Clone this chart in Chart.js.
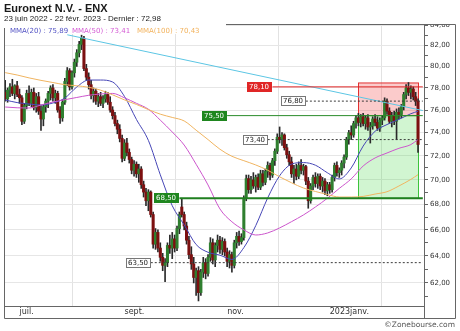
<!DOCTYPE html>
<html>
<head>
<meta charset="utf-8">
<script src="https://cdn.jsdelivr.net/npm/chart.js@4.4.1/dist/chart.umd.min.js"></script>
<style>
  html, body { margin: 0; padding: 0; background: #fff; }
  #box { width: 460px; height: 331px; position: relative; }
</style>
</head>
<body>
<div id="box"><canvas id="chart"></canvas></div>
<script>
// trading days from 23 juin 2022 to 22 févr. 2023 (Euronext shut on 26 déc.)
const firstDay = '2022-06-23';
const lastDay = '2023-02-22';
const closedDays = ['2022-12-26'];

const monthTickDays = ['2022-07-01', '2022-09-01', '2022-11-01', '2023-01-02'];
const monthTickNames = ['juil.', 'sept.', 'nov.', '2023janv.'];
const yTickValues = [61, 62, 63, 64, 65, 66, 67, 68, 69, 70, 71, 72, 73, 74, 75, 76, 77, 78, 79, 80, 81, 82, 83, 84];

const opens = [
  77.6, 77.0, 77.8, 78.1, 77.5, 78.2, 77.4, 77.1, 75.0, 76.4,
  77.5, 76.6, 77.6, 76.2, 77.2, 75.9, 75.2, 76.3, 76.8, 77.5,
  78.0, 77.1, 77.5, 76.0, 75.3, 76.7, 78.6, 79.6, 78.1, 79.4,
  80.4, 81.3, 82.1, 82.7, 79.8, 79.0, 78.3, 77.3, 77.7, 76.8,
  77.2, 76.6, 77.0, 77.4, 76.7, 76.0, 75.5, 74.8, 74.3, 73.5,
  71.8, 73.1, 72.3, 71.7, 70.8, 71.3, 70.5, 70.9, 69.6, 69.0,
  68.3, 69.0, 67.2, 64.9, 65.8, 64.6, 63.9, 63.3, 63.5, 64.8,
  64.6, 65.3, 64.6, 66.1, 67.8, 67.2, 66.3, 65.2, 64.1, 63.4,
  62.4, 62.9, 61.3, 62.8, 63.5, 62.7, 63.9, 65.0, 63.7, 64.8,
  65.2, 64.5, 65.1, 64.3, 63.6, 64.1, 63.3, 65.0, 65.5, 65.1,
  65.4, 68.5, 70.1, 69.2, 70.0, 69.5, 70.2, 69.4, 70.5, 69.8,
  70.7, 71.2, 70.4, 71.6, 72.4, 73.6, 73.4, 73.8, 72.7, 72.1,
  71.5, 70.5, 70.9, 70.3, 71.2, 70.8, 71.1, 69.9, 68.3, 69.5,
  70.2, 69.7, 70.3, 69.5, 69.9, 69.1, 69.6, 69.2, 70.2, 71.2,
  70.6, 70.8, 71.4, 71.9, 73.4, 74.0, 73.8, 74.8, 75.3, 74.9,
  75.4, 74.8, 75.3, 74.5, 74.6, 75.2, 74.9, 74.4, 75.1, 75.3,
  76.8, 75.9, 75.0, 75.5, 75.0, 75.8, 75.6, 76.3, 77.4, 78.0,
  77.6, 77.9, 77.2, 76.8
];
const highs = [
  78.7, 78.0, 78.4, 78.8, 78.3, 78.6, 77.9, 77.3, 76.6, 77.8,
  78.2, 77.9, 78.0, 77.5, 77.6, 76.4, 76.5, 77.0, 77.7, 78.2,
  78.3, 77.8, 77.7, 76.3, 76.9, 78.9, 79.9, 79.8, 79.6, 80.7,
  81.6, 82.4, 83.0, 82.9, 80.2, 79.4, 78.7, 78.0, 77.9, 77.5,
  77.6, 77.3, 77.7, 77.6, 77.2, 76.3, 75.8, 75.1, 74.7, 73.8,
  73.4, 73.5, 72.6, 71.9, 71.6, 71.5, 71.3, 71.1, 69.9, 69.3,
  69.2, 69.1, 67.4, 66.1, 66.0, 65.0, 64.2, 63.8, 65.0, 65.6,
  65.8, 65.6, 66.3, 67.4, 68.5, 67.4, 66.6, 65.5, 64.7, 63.9,
  63.1, 63.2, 63.0, 63.9, 63.8, 64.1, 65.4, 65.3, 65.0, 65.6,
  65.5, 65.4, 65.3, 64.6, 64.4, 64.3, 65.2, 65.8, 65.9, 65.7,
  68.7, 70.4, 70.4, 70.3, 70.6, 70.4, 70.5, 70.8, 70.8, 70.9,
  71.5, 71.4, 71.8, 72.6, 73.9, 74.5, 74.0, 73.9, 73.0, 72.4,
  71.9, 71.2, 71.3, 71.5, 71.7, 71.3, 71.2, 70.2, 69.7, 70.4,
  70.6, 70.5, 70.5, 70.2, 70.1, 69.8, 69.8, 70.4, 71.4, 71.5,
  71.0, 71.6, 72.1, 73.6, 74.2, 74.6, 75.0, 75.5, 75.7, 75.6,
  75.7, 75.5, 75.6, 74.9, 75.4, 75.6, 75.4, 75.3, 75.5, 77.1,
  77.0, 76.2, 75.8, 75.9, 76.1, 76.2, 76.5, 77.6, 78.3, 78.5,
  78.2, 78.1, 77.6, 77.0
];
const lows = [
  76.8, 76.7, 77.2, 77.3, 77.0, 77.2, 76.6, 74.7, 74.8, 76.1,
  76.4, 76.3, 76.0, 75.8, 75.6, 74.2, 74.6, 75.8, 76.2, 76.9,
  76.8, 76.6, 75.8, 74.8, 75.0, 76.5, 78.2, 77.8, 77.9, 79.0,
  80.0, 80.9, 81.6, 79.6, 78.7, 77.9, 77.0, 76.7, 76.5, 76.3,
  76.4, 76.2, 76.7, 76.5, 75.8, 75.2, 74.6, 73.9, 73.2, 71.5,
  71.6, 72.0, 71.4, 70.5, 70.3, 70.2, 69.8, 69.3, 68.6, 67.9,
  67.5, 67.0, 64.6, 64.5, 64.3, 63.6, 62.9, 62.1, 63.2, 64.2,
  63.8, 64.3, 64.4, 65.7, 67.0, 66.0, 64.9, 63.8, 63.0, 62.0,
  61.1, 60.7, 61.1, 62.4, 62.3, 62.5, 63.6, 63.4, 63.2, 64.3,
  64.2, 64.1, 64.0, 63.2, 63.1, 62.8, 63.1, 64.6, 64.8, 64.9,
  65.2, 68.3, 68.9, 68.9, 69.3, 69.0, 69.2, 69.2, 69.5, 69.6,
  70.2, 70.0, 70.2, 71.2, 72.2, 73.1, 72.9, 72.5, 71.8, 71.2,
  70.2, 69.7, 70.0, 70.1, 70.5, 70.4, 69.6, 67.7, 68.1, 69.2,
  69.4, 69.3, 69.2, 69.0, 68.8, 68.7, 68.9, 69.0, 69.9, 70.3,
  70.2, 70.4, 71.0, 71.7, 73.0, 73.4, 73.6, 74.4, 74.6, 74.5,
  74.6, 74.3, 74.2, 73.1, 74.3, 74.6, 74.2, 74.1, 74.7, 75.1,
  75.6, 74.8, 74.5, 74.7, 73.4, 75.2, 75.3, 76.0, 77.0, 77.3,
  77.0, 76.9, 76.4, 72.3
];
const closes = [
  77.0, 77.8, 78.1, 77.5, 78.2, 77.4, 77.1, 75.0, 76.4, 77.5,
  76.6, 77.6, 76.2, 77.2, 75.9, 75.2, 76.3, 76.8, 77.5, 78.0,
  77.1, 77.5, 76.0, 75.3, 76.7, 78.6, 79.6, 78.1, 79.4, 80.4,
  81.3, 82.1, 82.7, 79.8, 79.0, 78.3, 77.3, 77.7, 76.8, 77.2,
  76.6, 77.0, 77.4, 76.7, 76.0, 75.5, 74.8, 74.3, 73.5, 71.8,
  73.1, 72.3, 71.7, 70.8, 71.3, 70.5, 70.9, 69.6, 69.0, 68.3,
  69.0, 67.2, 64.9, 65.8, 64.6, 63.9, 63.3, 63.5, 64.8, 64.6,
  65.3, 64.6, 66.1, 67.2, 67.2, 66.3, 65.2, 64.1, 63.4, 62.4,
  62.9, 61.3, 62.8, 63.5, 62.7, 63.9, 65.0, 63.7, 64.8, 65.2,
  64.5, 65.1, 64.3, 63.6, 64.1, 63.3, 65.0, 65.5, 65.1, 65.4,
  68.5, 70.1, 69.2, 70.0, 69.5, 70.2, 69.4, 70.5, 69.8, 70.7,
  71.2, 70.4, 71.6, 72.4, 73.6, 73.4, 73.8, 72.7, 72.1, 71.5,
  70.5, 70.9, 70.3, 71.2, 70.8, 71.1, 69.9, 68.3, 69.5, 70.2,
  69.7, 70.3, 69.5, 69.9, 69.1, 69.6, 69.2, 70.2, 71.2, 70.6,
  70.8, 71.4, 71.9, 73.4, 74.0, 73.8, 74.8, 75.3, 74.9, 75.4,
  74.8, 75.3, 74.5, 74.6, 75.2, 74.9, 74.4, 75.1, 75.3, 76.8,
  75.9, 75.0, 75.5, 75.0, 75.8, 75.6, 76.3, 77.4, 78.0, 77.6,
  77.9, 77.2, 76.8, 72.98
];

// moving averages at every 5th session
const maIdx = [0, 5, 10, 15, 20, 25, 30, 35, 40, 45, 50, 55, 60, 65, 70, 75, 80, 85,
  90, 95, 100, 105, 110, 115, 120, 125, 130, 135, 140, 145, 150, 155, 160, 165, 170, 173];
const ma20 = [76.90, 76.67, 76.54, 76.45, 76.63, 77.08, 78.09, 78.73, 78.73, 78.55, 77.22, 75.16,
  73.33, 70.42, 67.90, 66.39, 64.87, 64.28, 64.06, 63.74, 64.63, 66.33, 68.53, 70.34,
  71.31, 71.44, 71.22, 70.59, 70.08, 70.99, 72.84, 74.12, 74.71, 75.17, 75.67, 75.89];
const ma50 = [76.27, 76.20, 76.18, 76.45, 76.72, 76.93, 77.13, 77.33, 77.45, 77.50, 77.10, 76.60,
  76.07, 75.10, 74.06, 72.93, 71.30, 69.58, 67.64, 66.63, 66.00, 65.60, 65.76, 66.15,
  66.64, 67.17, 67.80, 68.50, 69.30, 70.08, 71.15, 71.83, 72.25, 72.65, 72.97, 73.41];
const ma100 = [79.42, 79.20, 78.93, 78.70, 78.50, 78.30, 78.20, 78.06, 77.80, 77.37, 76.91, 76.50,
  76.04, 75.63, 75.34, 75.03, 74.22, 73.40, 72.57, 71.97, 71.60, 71.24, 70.80, 70.25,
  69.76, 69.33, 69.05, 68.80, 68.60, 68.60, 68.65, 68.84, 69.03, 69.50, 70.04, 70.43];

// falling trend line (session index -> price)
const trendIdx = [26, 175];
const trendVals = [83.04, 75.95];

// horizontal levels
const levelValues = [78.10, 76.80, 75.50, 73.40, 68.50, 63.50];
const levelStarts = [112, 126, 93, 110, 73, 61];
const levelKinds = ['resist', 'mark', 'support', 'mark', 'supportMain', 'mark'];

// target zones at the right
const zoneFrom = 148, zoneTo = 173;
const zoneTop = 78.46, zoneMid = 75.50, zoneBottom = 68.50;

const legendNames = ['MMA(20)', 'MMA(50)', 'MMA(100)'];

function tradingDays(from, to) {
  const out = [];
  const d = new Date(from + 'T12:00:00Z');
  const end = new Date(to + 'T12:00:00Z');
  while (d <= end) {
    const s = d.toISOString().slice(0, 10);
    const wd = d.getUTCDay();
    if (wd !== 0 && wd !== 6 && !closedDays.includes(s)) out.push(s);
    d.setUTCDate(d.getUTCDate() + 1);
  }
  return out;
}

const days = tradingDays(firstDay, lastDay);
const labels = days.concat(['pad1', 'pad2']);

const upColor = '#2f7f2f';
const downColor = '#7c1010';
const maColors = ['#4646b6', '#cc55cc', '#f0b460'];
const legendColors = ['#5252c4', '#d45ad4', '#f2b25c'];

const levelStyle = {
  resist: { line: '#e02626', width: 1, dash: [], box: '#e02626', border: '#e02626', text: '#fff' },
  support: { line: '#2a8c2a', width: 1, dash: [], box: '#1f861f', border: '#1f861f', text: '#fff' },
  supportMain: { line: '#1f7f1f', width: 2, dash: [], box: '#1f861f', border: '#1f861f', text: '#fff' },
  mark: { line: '#3a3a3a', width: 1, dash: [2, 2], box: '#fff', border: '#777', text: '#222' }
};

function fr(v) {
  return v.toFixed(2).replace('.', ',');
}

function maPoints(vals) {
  return maIdx.map((k, j) => ({ x: labels[k], y: vals[j] }));
}

const datasets = [];

datasets.push({
  type: 'bar',
  data: lows.map((l, i) => [l, highs[i]]),
  backgroundColor: '#2a2a2a',
  barThickness: 1,
  grouped: false,
  order: 5
});
datasets.push({
  type: 'bar',
  data: opens.map((o, i) => [o, closes[i]]),
  backgroundColor: opens.map((o, i) => closes[i] >= o ? upColor : downColor),
  barThickness: 2.4,
  minBarLength: 1,
  grouped: false,
  order: 4
});
datasets.push({
  type: 'line',
  data: trendIdx.map((k, j) => ({ x: labels[k], y: trendVals[j] })),
  borderColor: '#5cc6e4',
  borderWidth: 1,
  pointRadius: 0,
  order: 3
});
[ma100, ma50, ma20].forEach((vals, j) => {
  datasets.push({
    type: 'line',
    data: maPoints(vals),
    borderColor: maColors[2 - j],
    borderWidth: 1,
    pointRadius: 0,
    cubicInterpolationMode: 'monotone',
    order: 2
  });
});
levelValues.forEach((v, j) => {
  const st = levelStyle[levelKinds[j]];
  datasets.push({
    type: 'line',
    data: [{ x: labels[levelStarts[j]], y: v }, { x: 'pad2', y: v }],
    borderColor: st.line,
    borderWidth: st.width,
    borderDash: st.dash,
    pointRadius: 0,
    order: 1
  });
});

const decor = {
  id: 'decor',
  beforeDatasetsDraw(chart) {
    const { ctx, scales: { x, y } } = chart;
    const x1 = Math.round(x.getPixelForValue(zoneFrom)) + 0.5;
    const x2 = Math.round(x.getPixelForValue(zoneTo)) + 0.5;
    const yTop = y.getPixelForValue(zoneTop);
    const yMid = y.getPixelForValue(zoneMid);
    const yBot = y.getPixelForValue(zoneBottom);
    ctx.save();
    ctx.fillStyle = 'rgba(240, 70, 70, 0.28)';
    ctx.fillRect(x1, yTop, x2 - x1, yMid - yTop);
    ctx.fillStyle = 'rgba(70, 215, 70, 0.25)';
    ctx.fillRect(x1, yMid, x2 - x1, yBot - yMid);
    ctx.lineWidth = 1;
    ctx.strokeStyle = '#e23030';
    ctx.strokeRect(x1, yTop, x2 - x1, yMid - yTop);
    ctx.strokeStyle = '#3cc43c';
    ctx.strokeRect(x1, yMid, x2 - x1, yBot - yMid);
    ctx.restore();
  },
  afterDatasetsDraw(chart) {
    const { ctx, scales: { x, y } } = chart;
    ctx.save();
    ctx.font = '7px "DejaVu Sans"';
    ctx.textBaseline = 'middle';
    ctx.textAlign = 'left';
    levelValues.forEach((v, j) => {
      const st = levelStyle[levelKinds[j]];
      const txt = fr(v);
      const w = Math.ceil(ctx.measureText(txt).width) + 4;
      const xr = Math.round(x.getPixelForValue(levelStarts[j]));
      const yc = Math.round(y.getPixelForValue(v));
      ctx.fillStyle = st.box;
      ctx.fillRect(xr - w, yc - 5, w, 10);
      ctx.strokeStyle = st.border;
      ctx.lineWidth = 1;
      ctx.strokeRect(xr - w + 0.5, yc - 4.5, w - 1, 9);
      ctx.fillStyle = st.text;
      ctx.fillText(txt, xr - w + 2, yc + 0.5);
    });
    ctx.restore();
  },
  afterDraw(chart) {
    const { ctx, chartArea: a } = chart;
    ctx.save();
    // hide the part of the top tick label above the frame
    ctx.fillStyle = '#fff';
    ctx.fillRect(a.right + 1, 0, 460 - a.right, a.top);
    // frame
    ctx.strokeStyle = '#666';
    ctx.lineWidth = 1;
    ctx.beginPath();
    ctx.moveTo(a.left + 0.5, a.top + 0.5);
    ctx.lineTo(455.5, a.top + 0.5);
    ctx.lineTo(455.5, 318.5);
    ctx.lineTo(a.left + 0.5, 318.5);
    ctx.closePath();
    ctx.moveTo(a.right + 0.5, a.top + 0.5);
    ctx.lineTo(a.right + 0.5, 318.5);
    ctx.moveTo(a.left + 0.5, a.bottom + 0.5);
    ctx.lineTo(a.right + 0.5, a.bottom + 0.5);
    ctx.stroke();
    // legend box inside the plot
    ctx.fillStyle = '#fff';
    ctx.fillRect(a.left - 1, a.top - 2, 223, 6);
    ctx.fillRect(a.left + 1, a.top + 4, 221, 6);
    ctx.font = '7px "DejaVu Sans"';
    ctx.textBaseline = 'middle';
    const finals = [ma20[ma20.length - 1], ma50[ma50.length - 1], ma100[ma100.length - 1]];
    const lx = [10, 72, 137];
    legendNames.forEach((n, j) => {
      ctx.fillStyle = legendColors[j];
      ctx.fillText(n + ' : ' + fr(finals[j]), lx[j], a.top + 7);
    });
    ctx.fillStyle = '#555';
    ctx.font = '7.5px "DejaVu Sans"';
    ctx.textAlign = 'right';
    ctx.fillText('\u00a9Zonebourse.com', 455, 325);
    ctx.restore();
  }
};

new Chart(document.getElementById('chart'), {
  type: 'bar',
  data: { labels: labels, datasets: datasets },
  options: {
    responsive: true,
    maintainAspectRatio: false,
    animation: false,
    layout: { padding: { left: 4, right: 5, top: 0, bottom: 13 } },
    plugins: {
      legend: { display: false },
      tooltip: { enabled: false },
      title: {
        display: true,
        text: 'Euronext N.V. - ENX',
        align: 'start',
        color: '#1a1a1a',
        font: { family: 'Liberation Sans', size: 11, weight: 'bold', lineHeight: 1 },
        padding: { top: 3, bottom: 0 }
      },
      subtitle: {
        display: true,
        text: '23 juin 2022 - 22 févr. 2023 - Dernier : 72,98',
        align: 'start',
        color: '#222',
        font: { family: 'Liberation Sans', size: 8, lineHeight: 1 },
        padding: { top: 1, bottom: 1 }
      }
    },
    scales: {
      x: {
        type: 'category',
        border: { display: false },
        grid: { color: '#e2e2e2', drawTicks: false },
        afterFit(scale) { scale.height = 12; },
        ticks: {
          autoSkip: false,
          maxRotation: 0,
          align: 'start',
          padding: 1,
          color: '#333',
          font: { family: 'DejaVu Sans', size: 8 },
          callback(val, i) {
            const k = monthTickDays.indexOf(labels[i]);
            return k >= 0 ? monthTickNames[k] : null;
          }
        }
      },
      y: {
        type: 'logarithmic',
        position: 'right',
        min: 60.34,
        max: 84.1,
        border: { display: false },
        afterFit(scale) { scale.width = 31; },
        afterBuildTicks(scale) {
          scale.ticks = yTickValues.map(v => ({ value: v }));
        },
        grid: {
          color: ctx => (ctx.tick && ctx.tick.value % 2 === 0) ? '#e6e6e6' : 'rgba(0,0,0,0)',
          tickColor: '#666',
          tickLength: 4
        },
        ticks: {
          autoSkip: false,
          padding: 2,
          color: '#333',
          font: { family: 'DejaVu Sans', size: 7 },
          callback: v => v % 2 === 0 ? fr(v) : ''
        }
      }
    }
  },
  plugins: [decor]
});
</script>
</body>
</html>
